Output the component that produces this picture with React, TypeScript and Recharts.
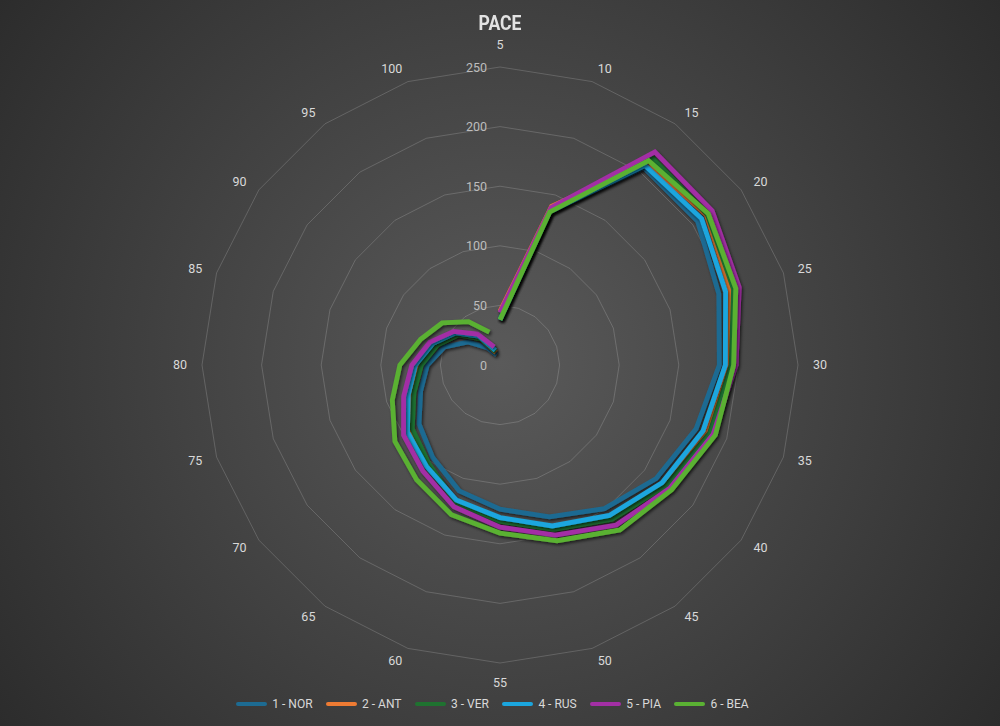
import { RadarChart, Radar, PolarGrid, PolarAngleAxis, PolarRadiusAxis, Legend } from "recharts"

const laps = [5, 10, 15, 20, 25, 30, 35, 40, 45, 50, 55, 60, 65, 70, 75, 80, 85, 90, 95, 100]

const nor = [38, 135, 205, 205, 193, 184, 173, 162, 149, 134, 121, 111, 96, 84, 70, 61, 49, 33, 18, 9]
const ant = [45, 140, 210, 214, 203, 192, 181, 169, 157, 143, 129, 120, 104, 94, 79, 69, 57, 44, 28, 11]
const ver = [38, 135, 216, 215, 206, 194, 185, 172, 160, 145, 131, 121, 102, 91, 76, 66, 55, 43, 27, 12]
const rus = [38, 135, 207, 209, 199, 189, 179, 168, 156, 142, 128, 119, 105, 96, 81, 71, 59, 46, 30, 13]
const pia = [44, 139, 221, 220, 211, 198, 188, 176, 166, 150, 136, 125, 110, 100, 85, 74, 62, 48, 32, 16]
const bea = [38, 135, 212, 216, 208, 196, 190, 178, 171, 155, 141, 132, 119, 109, 95, 84, 70, 60, 45, 29]

const radiusTicks = [0, 50, 100, 150, 200, 250]

const series = [
  { key: "nor", name: "1 - NOR", color: "#1d6b92", values: nor },
  { key: "ant", name: "2 - ANT", color: "#ee7b33", values: ant },
  { key: "ver", name: "3 - VER", color: "#1f7230", values: ver },
  { key: "rus", name: "4 - RUS", color: "#1ba6de", values: rus },
  { key: "pia", name: "5 - PIA", color: "#a32fa5", values: pia },
  { key: "bea", name: "6 - BEA", color: "#5ab133", values: bea },
]

const data = laps.map((lap, i) => {
  const row: Record<string, number> = { lap }
  series.forEach((s) => {
    row[s.key] = s.values[i]
  })
  return row
})

const CX = 500
const CY = 365
const R = 298
const FONT = "Roboto, 'Liberation Sans', sans-serif"

// excel draws the series as open lines, no closing segment
function openLine(color: string) {
  return (props: any) => {
    const pts = (props.points || []) as { x: number; y: number }[]
    const d = pts.map((p, i) => `${i === 0 ? "M" : "L"}${p.x},${p.y}`).join(" ")
    return (
      <path
        d={d}
        fill="none"
        stroke={color}
        strokeWidth={4.8}
        strokeLinejoin="miter"
        filter="url(#lineShadow)"
      />
    )
  }
}

// place the label box next to the outer vertex, excel style
function AngleTick(props: any) {
  const { x, y, payload } = props
  const dist = Math.hypot(x - CX, y - CY) || 1
  const sin = (x - CX) / dist
  const cos = -(y - CY) / dist
  const vx = CX + R * sin
  const vy = CY - R * cos
  const halfW = String(payload.value).length * 3.4
  let dx = 0
  let dy = 0
  if (Math.abs(sin) < 0.01) {
    dy = cos > 0 ? -22.5 : 19
  } else {
    dx = Math.sign(sin) * (halfW + 1.7) + 13.5 * sin
    dy = -(0.7 + 13.5 * cos)
  }
  return (
    <text x={vx + dx} y={vy + dy} textAnchor="middle" dominantBaseline="central" fill="#d9d9d9" fontSize={12.5} fontFamily={FONT}>
      {payload.value}
    </text>
  )
}

function RadiusTick(props: any) {
  const { x, y, payload } = props
  return (
    <text x={x - 13} y={y} textAnchor="end" dominantBaseline="central" fill="#bdbdbd" fontSize={12.5} fontFamily={FONT}>
      {payload.value}
    </text>
  )
}

function LegendRow() {
  return (
    <div style={{ display: "flex", justifyContent: "center", alignItems: "center", gap: 13.5, marginLeft: -15 }}>
      {series.map((s) => (
        <div key={s.key} style={{ display: "flex", alignItems: "center", gap: 5 }}>
          <div style={{ width: 31, height: 4, borderRadius: 2, background: s.color }} />
          <span style={{ color: "#d9d9d9", fontSize: 12, fontFamily: FONT, lineHeight: "16px" }}>{s.name}</span>
        </div>
      ))}
    </div>
  )
}

export default function App() {
  return (
    <div
      style={{
        position: "absolute",
        left: 0,
        top: 0,
        width: 1000,
        height: 726,
        background: "radial-gradient(circle farthest-corner at 50% 50%, #5a5a5a 0%, #2c2c2c 100%)",
      }}
    >
      <div
        style={{
          position: "absolute",
          top: 10,
          left: 0,
          width: 1000,
          textAlign: "center",
          color: "#e2e2e2",
          fontFamily: FONT,
          fontWeight: 700,
          fontSize: 20,
          lineHeight: "26px",
          transform: "scaleX(0.88)",
        }}
      >
        PACE
      </div>
      <RadarChart
        width={1000}
        height={726}
        data={data}
        cx={CX}
        cy={CY}
        outerRadius={R}
        margin={{ top: 0, right: 0, bottom: 0, left: 0 }}
      >
        <defs>
          <filter id="lineShadow" x="-20%" y="-20%" width="140%" height="140%">
            <feDropShadow dx="1.5" dy="2" stdDeviation="1.5" floodColor="#000" floodOpacity="0.6" />
          </filter>
        </defs>
        <PolarGrid gridType="polygon" radialLines={false} stroke="#ffffff" strokeOpacity={0.17} />
        <PolarAngleAxis dataKey="lap" tick={AngleTick} tickLine={false} axisLine={false} tickSize={8} />
        <PolarRadiusAxis
          angle={90}
          domain={[0, 250]}
          ticks={radiusTicks}
          tick={RadiusTick}
          axisLine={false}
          tickLine={false}
        />
        {series.map((s) => (
          <Radar
            key={s.key}
            dataKey={s.key}
            name={s.name}
            stroke={s.color}
            fill="none"
            shape={openLine(s.color)}
            isAnimationActive={false}
          />
        ))}
        <Legend
          content={() => <LegendRow />}
          wrapperStyle={{ position: "absolute", left: 0, top: 696, width: 1000, height: 16 }}
        />
      </RadarChart>
    </div>
  )
}
